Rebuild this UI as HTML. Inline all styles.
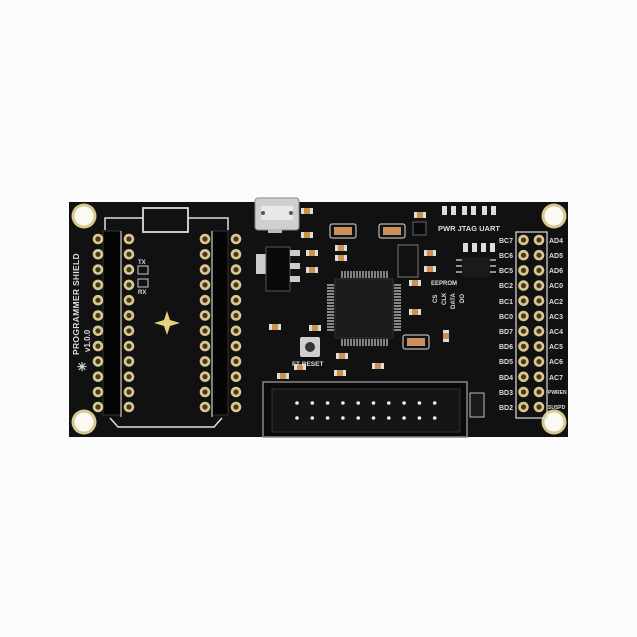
<!DOCTYPE html>
<html><head><style>
html,body{margin:0;padding:0;background:#fcfcfc;width:637px;height:637px;overflow:hidden}
text{font-family:"Liberation Sans",sans-serif;font-weight:bold}
</style></head><body style="background:#fcfcfc">
<div style="position:absolute;left:0;top:0;width:637px;height:637px;background:#fcfcfc"></div>
<svg width="637" height="637" viewBox="0 0 637 637" xmlns="http://www.w3.org/2000/svg" style="position:absolute;left:0;top:0;display:block">
<defs>
<g id="pin"><circle r="5.3" fill="#d8c78f"/><circle r="2.6" fill="#4a3520"/></g>
<g id="mh"><circle r="12.5" fill="#d9c98e"/><circle r="9.5" fill="#fbfaf2"/></g>
<g id="smd"><rect x="-6" y="-3" width="12" height="6" fill="#ddd"/><rect x="-3" y="-3" width="6" height="6" fill="#c9924f"/></g>
</defs>
<rect x="0" y="0" width="637" height="637" fill="#fbfbfb"/>
<rect x="69" y="202" width="499" height="235" fill="#111"/>
<use href="#mh" x="84" y="216"/><use href="#mh" x="554" y="216"/>
<use href="#mh" x="84" y="422"/><use href="#mh" x="554" y="422"/>
<path d="M105 230 V218 H143 M188 218 H228 V230" stroke="#ddd" stroke-width="1.5" fill="none"/>
<rect x="143" y="208" width="45" height="24" fill="none" stroke="#ddd" stroke-width="1.8"/>
<path d="M110 418 L118 427 H214 L222 418" stroke="#ddd" stroke-width="1.5" fill="none"/>
<rect x="103" y="231" width="18" height="184" fill="#050505" stroke="#333"/>
<rect x="212" y="231" width="16" height="184" fill="#050505" stroke="#333"/>
<line x1="121" y1="231" x2="121" y2="417" stroke="#ccc" stroke-width="1.2"/>
<line x1="212" y1="231" x2="212" y2="417" stroke="#ccc" stroke-width="1.2"/>
<g id="lp">
<use href="#pin" x="98" y="239"/><use href="#pin" x="98" y="254.3"/><use href="#pin" x="98" y="269.6"/><use href="#pin" x="98" y="284.9"/><use href="#pin" x="98" y="300.2"/><use href="#pin" x="98" y="315.5"/><use href="#pin" x="98" y="330.8"/><use href="#pin" x="98" y="346.1"/><use href="#pin" x="98" y="361.4"/><use href="#pin" x="98" y="376.7"/><use href="#pin" x="98" y="392"/><use href="#pin" x="98" y="407"/>
</g>
<use href="#lp" x="31"/><use href="#lp" x="107"/><use href="#lp" x="138"/>
<text x="138" y="264" font-size="6" fill="#ddd">TX</text>
<rect x="138" y="266" width="10" height="8" fill="none" stroke="#ccc"/>
<rect x="138" y="279" width="10" height="8" fill="none" stroke="#ccc"/>
<text x="138" y="294" font-size="6" fill="#ddd">RX</text>
<path d="M167 311 L170 320 L180 323 L170 326 L167 335 L164 326 L154 323 L164 320 Z" fill="#e8cf7a"/>
<text transform="translate(79,355) rotate(-90)" font-size="8.5" font-weight="normal" fill="#ddd" letter-spacing="0.3">PROGRAMMER SHIELD</text>
<text transform="translate(90,352) rotate(-90)" font-size="8" font-weight="normal" fill="#ddd">v1.0.0</text>
<text x="77" y="371" font-size="12" fill="#ddd" font-weight="normal">✳</text>
<rect x="255" y="198" width="44" height="32" rx="3" fill="#cfcfcf" stroke="#888"/>
<rect x="261" y="206" width="32" height="14" fill="#e8e8e8"/>
<circle cx="263" cy="213" r="2" fill="#555"/><circle cx="291" cy="213" r="2" fill="#555"/>
<rect x="268" y="229" width="14" height="4" fill="#bbb"/>
<rect x="256" y="254" width="14" height="20" fill="#ccc"/>
<rect x="266" y="247" width="24" height="44" fill="#0a0a0a" stroke="#555"/>
<rect x="290" y="250" width="10" height="6" fill="#ccc"/><rect x="290" y="263" width="10" height="6" fill="#ccc"/><rect x="290" y="276" width="10" height="6" fill="#ccc"/>
<rect x="335" y="279" width="58" height="59" fill="#1a1a1a" stroke="#333"/>
<g stroke="#cfcfcf" stroke-width="1.2">
<path d="M342 271V278M345 271V278M348 271V278M351 271V278M354 271V278M357 271V278M360 271V278M363 271V278M366 271V278M369 271V278M372 271V278M375 271V278M378 271V278M381 271V278M384 271V278M387 271V278"/>
<path d="M342 339V346M345 339V346M348 339V346M351 339V346M354 339V346M357 339V346M360 339V346M363 339V346M366 339V346M369 339V346M372 339V346M375 339V346M378 339V346M381 339V346M384 339V346M387 339V346"/>
<path d="M327 285H334M327 288H334M327 291H334M327 294H334M327 297H334M327 300H334M327 303H334M327 306H334M327 309H334M327 312H334M327 315H334M327 318H334M327 321H334M327 324H334M327 327H334M327 330H334"/>
<path d="M394 285H401M394 288H401M394 291H401M394 294H401M394 297H401M394 300H401M394 303H401M394 306H401M394 309H401M394 312H401M394 315H401M394 318H401M394 321H401M394 324H401M394 327H401M394 330H401"/>
</g>
<rect x="398" y="245" width="20" height="32" fill="#111" stroke="#777"/>
<rect x="462" y="257" width="28" height="20" fill="#1a1a1a"/>
<g stroke="#bbb" stroke-width="1.5"><path d="M456 260h6M456 266h6M456 272h6M490 260h6M490 266h6M490 272h6"/></g>
<rect x="330" y="224" width="26" height="14" rx="2" fill="none" stroke="#ddd"/><rect x="334" y="227" width="18" height="8" fill="#c9925a"/>
<rect x="379" y="224" width="26" height="14" rx="2" fill="none" stroke="#ddd"/><rect x="383" y="227" width="18" height="8" fill="#c9925a"/>
<rect x="403" y="335" width="26" height="14" rx="2" fill="none" stroke="#ddd"/><rect x="407" y="338" width="18" height="8" fill="#c9925a"/>
<use href="#smd" x="341" y="248"/><use href="#smd" x="341" y="258"/><use href="#smd" x="430" y="253"/><use href="#smd" x="430" y="269"/>
<use href="#smd" x="415" y="283"/><use href="#smd" x="415" y="312"/><use href="#smd" x="315" y="328"/><use href="#smd" x="275" y="327"/>
<use href="#smd" x="342" y="356"/><use href="#smd" x="378" y="366"/><use href="#smd" x="307" y="211"/><use href="#smd" x="307" y="235"/>
<use href="#smd" x="300" y="367"/><use href="#smd" x="283" y="376"/><use href="#smd" x="340" y="373"/><use href="#smd" x="420" y="215"/><use href="#smd" x="312" y="253"/><use href="#smd" x="312" y="270"/>
<use href="#smd" x="446" y="336" transform="rotate(90 446 336)"/>
<g fill="#ddd"><rect x="442" y="206" width="5" height="9"/><rect x="451" y="206" width="5" height="9"/><rect x="462" y="206" width="5" height="9"/><rect x="471" y="206" width="5" height="9"/><rect x="482" y="206" width="5" height="9"/><rect x="491" y="206" width="5" height="9"/>
<rect x="463" y="243" width="5" height="9"/><rect x="472" y="243" width="5" height="9"/><rect x="481" y="243" width="5" height="9"/><rect x="490" y="243" width="5" height="9"/></g>
<rect x="413" y="222" width="13" height="13" fill="#0a0a0a" stroke="#666"/>
<text x="438" y="231" font-size="7.5" fill="#ddd">PWR JTAG UART</text>
<text x="431" y="285" font-size="6" fill="#ddd">EEPROM</text>
<g font-size="6" fill="#ddd">
<text transform="translate(437,303) rotate(-90)">CS</text><text transform="translate(446,305) rotate(-90)">CLK</text><text transform="translate(455,309) rotate(-90)">DATA</text><text transform="translate(464,303) rotate(-90)">DO</text></g>
<rect x="300" y="337" width="20" height="20" rx="2" fill="#cfcfcf"/><circle cx="310" cy="347" r="5" fill="#333"/>
<text x="292" y="366" font-size="6.5" fill="#ddd">FT RESET</text>
<rect x="263" y="382" width="204" height="55" fill="#0a0a0a" stroke="#888" stroke-width="1.5"/>
<rect x="272" y="389" width="188" height="43" fill="#151515" stroke="#333"/>
<g fill="#eee">
<g id="cp"><circle cx="297" cy="403" r="1.8"/><circle cx="297" cy="418" r="1.8"/></g>
<use href="#cp" x="15.3"/><use href="#cp" x="30.6"/><use href="#cp" x="45.9"/><use href="#cp" x="61.2"/><use href="#cp" x="76.5"/><use href="#cp" x="91.8"/><use href="#cp" x="107.1"/><use href="#cp" x="122.4"/><use href="#cp" x="137.7"/>
</g>
<rect x="470" y="393" width="14" height="24" fill="#1a1a1a" stroke="#bbb"/>
<rect x="516" y="232" width="31" height="186" fill="none" stroke="#ddd" stroke-width="1.2"/>
<g id="rp">
<use href="#pin" x="523.5" y="240"/><use href="#pin" x="523.5" y="255.2"/><use href="#pin" x="523.5" y="270.4"/><use href="#pin" x="523.5" y="285.6"/><use href="#pin" x="523.5" y="300.8"/><use href="#pin" x="523.5" y="316"/><use href="#pin" x="523.5" y="331.2"/><use href="#pin" x="523.5" y="346.4"/><use href="#pin" x="523.5" y="361.6"/><use href="#pin" x="523.5" y="376.8"/><use href="#pin" x="523.5" y="392"/><use href="#pin" x="523.5" y="407"/>
</g>
<use href="#rp" x="15.5"/>
<g font-size="7" fill="#ddd" text-anchor="end">
<text x="513" y="243">BC7</text><text x="513" y="258">BC6</text><text x="513" y="273">BC5</text><text x="513" y="288">BC2</text><text x="513" y="304">BC1</text><text x="513" y="319">BC0</text><text x="513" y="334">BD7</text><text x="513" y="349">BD6</text><text x="513" y="364">BD5</text><text x="513" y="380">BD4</text><text x="513" y="395">BD3</text><text x="513" y="410">BD2</text>
</g>
<g font-size="7" fill="#ddd">
<text x="549" y="243">AD4</text><text x="549" y="258">AD5</text><text x="549" y="273">AD6</text><text x="549" y="288">AC0</text><text x="549" y="304">AC2</text><text x="549" y="319">AC3</text><text x="549" y="334">AC4</text><text x="549" y="349">AC5</text><text x="549" y="364">AC6</text><text x="549" y="380">AC7</text>
<text x="548" y="394" font-size="5">PWREN</text><text x="548" y="409" font-size="5">SUSPD</text>
</g>
</svg>
</body></html>
